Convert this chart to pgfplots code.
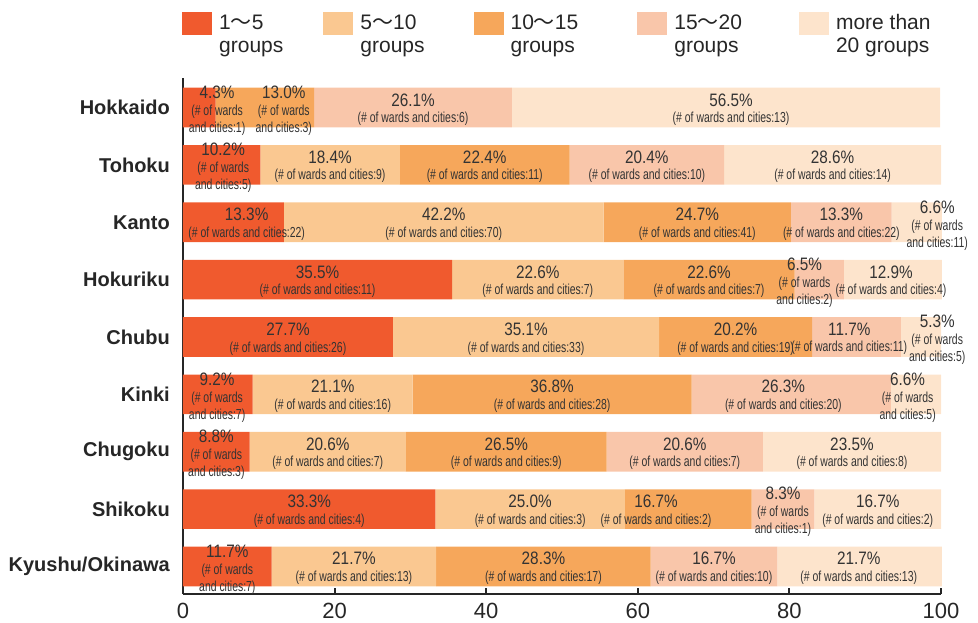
\documentclass[border=0pt]{standalone}
\usepackage{pgfplots}
\pgfplotsset{compat=1.18}
\usepackage{pgfplotstable}
\usepackage{fontspec}
\setmainfont{Liberation Sans}
\newfontfamily\condA[FakeStretch=0.85]{Liberation Sans}
\newfontfamily\condB[FakeStretch=0.72]{Liberation Sans}
\newfontfamily\cjk{Noto Sans CJK JP}

\definecolor{cA}{HTML}{F05A2E}
\definecolor{cB}{HTML}{FAC891}
\definecolor{cC}{HTML}{F6A75B}
\definecolor{cD}{HTML}{F9C6AA}
\definecolor{cE}{HTML}{FDE4CC}
\definecolor{txt}{HTML}{333333}

\pgfplotstableread{
row a b c d e
0 4.3 0 13.0 26.1 56.5
1 10.2 18.4 22.4 20.4 28.6
2 13.3 42.2 24.7 13.3 6.6
3 35.5 22.6 22.6 6.5 12.9
4 27.7 35.1 20.2 11.7 5.3
5 9.2 21.1 36.8 26.3 6.6
6 8.8 20.6 26.5 20.6 23.5
7 33.3 25.0 16.7 8.3 16.7
8 11.7 21.7 28.3 16.7 21.7
}\datatable

\newcommand{\pctf}{\condA\fontsize{18}{16.5}\selectfont}
\newcommand{\parf}{\condB\fontsize{14.5}{16.5}\selectfont}
\newcommand{\cc}[3]{\coordinate (#1) at (axis cs:#2,#3);}
\newcommand{\lab}[3]{\node[align=center,inner sep=0pt,text=txt,font=\parf,yshift=-2pt] at (#1) {{\pctf #2\%}\\{\parf (\# of wards and cities:#3)}};}
\newcommand{\labt}[3]{\node[align=center,inner sep=0pt,text=txt,font=\condB\fontsize{14.5}{17}\selectfont,yshift=-3pt] at (#1) {{\pctf #2\%}\\(\# of wards\\and cities:#3)};}

\begin{document}
\begin{tikzpicture}
\useasboundingbox (-183pt,-28pt) rectangle (795pt,594pt);
\begin{axis}[
  name=ax,
  scale only axis,
  width=758pt, height=516pt,
  xbar stacked,
  bar width=0.69,
  xmin=0, xmax=100,
  ymin=-0.514, ymax=8.48,
  y dir=reverse,
  clip=false,
  axis x line*=bottom,
  axis y line*=left,
  axis line style={line width=2pt, black!85},
  xtick={0,20,40,60,80,100},
  tick align=inside,
  x tick style={line width=2pt, black!85},
  major tick length=6pt,
  /pgf/number format/assume math mode=true,
  xticklabel style={font=\fontsize{22}{22}\selectfont, text=black!85, inner sep=0pt, yshift=-9pt},
  ytick={0,...,8},
  yticklabels={Hokkaido,Tohoku,Kanto,Hokuriku,Chubu,Kinki,Chugoku,Shikoku,Kyushu/Okinawa},
  y tick style={draw=none},
  yticklabel style={font=\bfseries\fontsize{20}{24}\selectfont, text=black!85, inner sep=0pt, xshift=-13pt},
  legend style={draw=none, fill=none, at={(0,1)}, anchor=north west, xshift=-1pt, yshift=66pt,
    legend columns=5, font=\fontsize{21}{23}\selectfont, text=black!85, inner sep=0pt,
    /tikz/every odd column/.append style={column sep=5pt},
    /tikz/column 2/.style={column sep=38pt},
    /tikz/column 4/.style={column sep=47pt},
    /tikz/column 6/.style={column sep=57pt},
    /tikz/column 8/.style={column sep=55pt},
    cells={align=left}},
  legend cell align=left,
  legend image code/.code={\fill[#1,draw=none] (0pt,-1pt) rectangle (30pt,22pt);},
]
\addplot[fill=cA, draw=none] table[x=a, y=row] {\datatable};
\addplot[fill=cB, draw=none] table[x=b, y=row] {\datatable};
\addplot[fill=cC, draw=none] table[x=c, y=row] {\datatable};
\addplot[fill=cD, draw=none] table[x=d, y=row] {\datatable};
\addplot[fill=cE, draw=none] table[x=e, y=row] {\datatable};
\addlegendentry{1{\cjk 〜}5\\groups}
\addlegendentry{5{\cjk 〜}10\\groups}
\addlegendentry{10{\cjk 〜}15\\groups}
\addlegendentry{15{\cjk 〜}20\\groups}
\addlegendentry{more than\\20 groups}

\cc{r0a}{4.5}{0}\cc{r0c}{13.3}{0}\cc{r0d}{30.35}{0}\cc{r0e}{72.3}{0}
\cc{r1a}{5.3}{1}\cc{r1b}{19.4}{1}\cc{r1c}{39.8}{1}\cc{r1d}{61.2}{1}\cc{r1e}{85.7}{1}
\cc{r2a}{8.4}{2}\cc{r2b}{34.4}{2}\cc{r2c}{67.85}{2}\cc{r2d}{86.85}{2}\cc{r2e}{99.5}{2}
\cc{r3a}{17.75}{3}\cc{r3b}{46.8}{3}\cc{r3c}{69.4}{3}\cc{r3d}{82.0}{3}\cc{r3e}{93.4}{3}
\cc{r4a}{13.85}{4}\cc{r4b}{45.25}{4}\cc{r4c}{72.9}{4}\cc{r4d}{87.9}{4}\cc{r4e}{99.5}{4}
\cc{r5a}{4.5}{5}\cc{r5b}{19.75}{5}\cc{r5c}{48.7}{5}\cc{r5d}{79.2}{5}\cc{r5e}{95.6}{5}
\cc{r6a}{4.4}{6}\cc{r6b}{19.1}{6}\cc{r6c}{42.65}{6}\cc{r6d}{66.2}{6}\cc{r6e}{88.25}{6}
\cc{r7a}{16.65}{7}\cc{r7b}{45.8}{7}\cc{r7c}{62.4}{7}\cc{r7d}{79.15}{7}\cc{r7e}{91.65}{7}
\cc{r8a}{5.85}{8}\cc{r8b}{22.55}{8}\cc{r8c}{47.55}{8}\cc{r8d}{70.05}{8}\cc{r8e}{89.15}{8}
\end{axis}

\labt{r0a}{4.3}{1}
\labt{r0c}{13.0}{3}
\lab{r0d}{26.1}{6}
\lab{r0e}{56.5}{13}

\labt{r1a}{10.2}{5}
\lab{r1b}{18.4}{9}
\lab{r1c}{22.4}{11}
\lab{r1d}{20.4}{10}
\lab{r1e}{28.6}{14}

\lab{r2a}{13.3}{22}
\lab{r2b}{42.2}{70}
\lab{r2c}{24.7}{41}
\lab{r2d}{13.3}{22}
\labt{r2e}{6.6}{11}

\lab{r3a}{35.5}{11}
\lab{r3b}{22.6}{7}
\lab{r3c}{22.6}{7}
\labt{r3d}{6.5}{2}
\lab{r3e}{12.9}{4}

\lab{r4a}{27.7}{26}
\lab{r4b}{35.1}{33}
\lab{r4c}{20.2}{19}
\lab{r4d}{11.7}{11}
\labt{r4e}{5.3}{5}

\labt{r5a}{9.2}{7}
\lab{r5b}{21.1}{16}
\lab{r5c}{36.8}{28}
\lab{r5d}{26.3}{20}
\labt{r5e}{6.6}{5}

\labt{r6a}{8.8}{3}
\lab{r6b}{20.6}{7}
\lab{r6c}{26.5}{9}
\lab{r6d}{20.6}{7}
\lab{r6e}{23.5}{8}

\lab{r7a}{33.3}{4}
\lab{r7b}{25.0}{3}
\lab{r7c}{16.7}{2}
\labt{r7d}{8.3}{1}
\lab{r7e}{16.7}{2}

\labt{r8a}{11.7}{7}
\lab{r8b}{21.7}{13}
\lab{r8c}{28.3}{17}
\lab{r8d}{16.7}{10}
\lab{r8e}{21.7}{13}
\end{tikzpicture}
\end{document}
